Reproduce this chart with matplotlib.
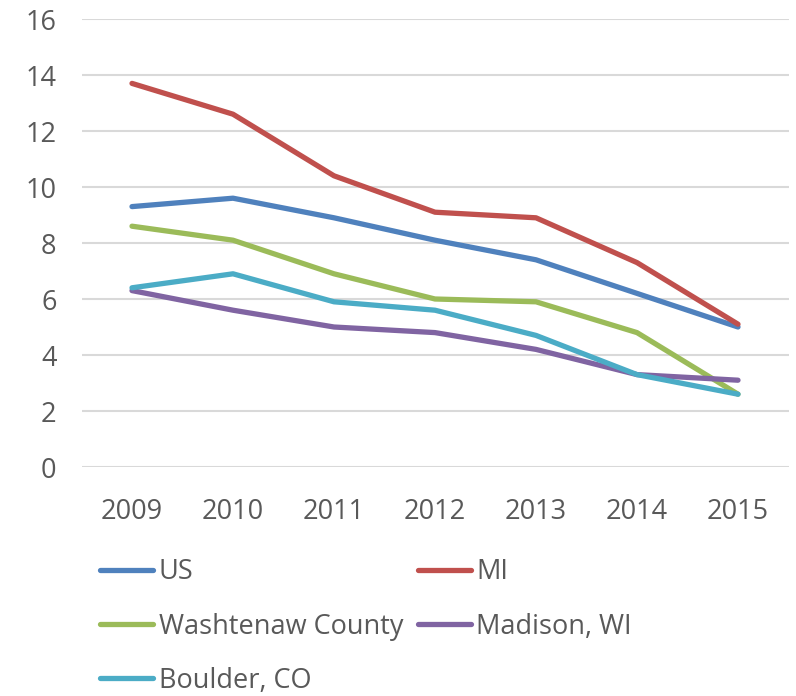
import matplotlib.pyplot as plt

years = ['2009', '2010', '2011', '2012', '2013', '2014', '2015']
us = [9.3, 9.6, 8.9, 8.1, 7.4, 6.2, 5.0]
mi = [13.7, 12.6, 10.4, 9.1, 8.9, 7.3, 5.1]
washtenaw = [8.6, 8.1, 6.9, 6.0, 5.9, 4.8, 2.6]
madison = [6.3, 5.6, 5.0, 4.8, 4.2, 3.3, 3.1]
boulder = [6.4, 6.9, 5.9, 5.6, 4.7, 3.3, 2.6]

plt.rcParams['font.family'] = ['Open Sans', 'DejaVu Sans']
text_color = '#595959'

fig = plt.figure(figsize=(7.96, 6.96), dpi=100)
ax = fig.add_axes([81.5 / 796, 229 / 696, 707 / 796, 448 / 696])

x = range(len(years))
series = [
    ('US', us, '#4F81BD'),
    ('MI', mi, '#C0504D'),
    ('Washtenaw County', washtenaw, '#9BBB59'),
    ('Madison, WI', madison, '#8064A2'),
    ('Boulder, CO', boulder, '#4BACC6'),
]
lines = {}
for name, vals, col in series:
    ln, = ax.plot(x, vals, color=col, lw=3.8, solid_capstyle='round',
                  solid_joinstyle='round', label=name)
    lines[name] = ln

ax.set_xlim(-0.5, 6.5)
ax.set_ylim(0, 16)
ax.set_yticks(range(0, 17, 2))
ax.set_xticks(list(x))
ax.set_xticklabels(years)
ax.grid(axis='y', color='#D9D9D9', lw=1.5)
ax.set_axisbelow(True)
for s in ax.spines.values():
    s.set_visible(False)
ax.tick_params(length=0, labelsize=19.5, colors=text_color)
ax.tick_params(axis='x', pad=22)
ax.tick_params(axis='y', pad=18)

order = ['US', 'Washtenaw County', 'Boulder, CO', 'MI', 'Madison, WI']
fig.legend([lines[n] for n in order], order, ncol=2, frameon=False,
           loc='upper left', bbox_to_anchor=(76 / 796, 1 - 534 / 696),
           fontsize=19.5, labelcolor=text_color, handlelength=1.95,
           handletextpad=0.2, columnspacing=0.55, labelspacing=0.97)

fig.savefig('out.png', dpi=100)
